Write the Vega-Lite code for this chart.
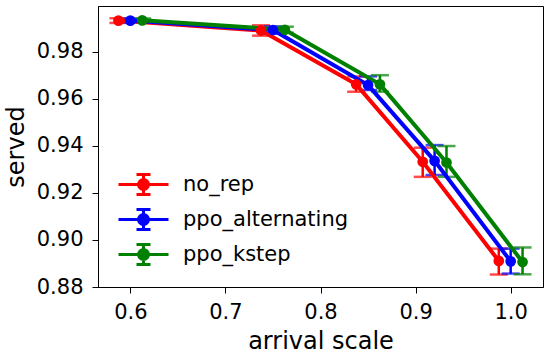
{
  "$schema": "https://vega.github.io/schema/vega-lite/v6.json",
  "width": 445,
  "height": 281,
  "autosize": {"type": "none"},
  "padding": {"left": 98, "top": 6, "right": 7, "bottom": 69},
  "background": "white",
  "config": {
    "font": "DejaVu Sans",
    "view": {"stroke": "black", "strokeWidth": 1},
    "axis": {
      "grid": false,
      "domainColor": "black",
      "tickColor": "black",
      "tickSize": 6,
      "labelFontSize": 21,
      "labelColor": "black",
      "labelFont": "DejaVu Sans",
      "titleFontSize": 24,
      "titleFontWeight": "normal",
      "titleColor": "black",
      "titleFont": "DejaVu Sans"
    }
  },
  "data": {
    "values": [
      {"series": "no_rep", "x": 0.5875, "y": 0.9932, "lo": 0.9922, "hi": 0.9942},
      {"series": "no_rep", "x": 0.7375, "y": 0.9890, "lo": 0.9868, "hi": 0.9912},
      {"series": "no_rep", "x": 0.8375, "y": 0.9661, "lo": 0.9630, "hi": 0.9694},
      {"series": "no_rep", "x": 0.9075, "y": 0.9332, "lo": 0.9268, "hi": 0.9392},
      {"series": "no_rep", "x": 0.9875, "y": 0.8911, "lo": 0.8853, "hi": 0.8963},
      {"series": "ppo_alternating", "x": 0.6, "y": 0.9932, "lo": 0.9924, "hi": 0.9940},
      {"series": "ppo_alternating", "x": 0.75, "y": 0.9892, "lo": 0.9877, "hi": 0.9907},
      {"series": "ppo_alternating", "x": 0.85, "y": 0.9658, "lo": 0.9637, "hi": 0.9695},
      {"series": "ppo_alternating", "x": 0.92, "y": 0.9336, "lo": 0.9276, "hi": 0.9403},
      {"series": "ppo_alternating", "x": 1.0, "y": 0.8909, "lo": 0.8857, "hi": 0.8963},
      {"series": "ppo_kstep", "x": 0.6125, "y": 0.9933, "lo": 0.9925, "hi": 0.9941},
      {"series": "ppo_kstep", "x": 0.7625, "y": 0.9893, "lo": 0.9880, "hi": 0.9906},
      {"series": "ppo_kstep", "x": 0.8625, "y": 0.9661, "lo": 0.9630, "hi": 0.9700},
      {"series": "ppo_kstep", "x": 0.9325, "y": 0.9329, "lo": 0.9268, "hi": 0.9399},
      {"series": "ppo_kstep", "x": 1.0125, "y": 0.8906, "lo": 0.8854, "hi": 0.8968}
    ]
  },
  "encoding": {
    "x": {
      "field": "x",
      "type": "quantitative",
      "title": "arrival scale",
      "scale": {"domain": [0.566, 1.034], "nice": false, "zero": false},
      "axis": {"values": [0.6, 0.7, 0.8, 0.9, 1.0], "format": ".1f", "labelPadding": 8, "titlePadding": 7, "labelFlush": false}
    },
    "color": {
      "field": "series",
      "type": "nominal",
      "scale": {"domain": ["no_rep", "ppo_alternating", "ppo_kstep"], "range": ["#ff0000", "#0000ff", "#008000"]}
    }
  },
  "layer": [
    {
      "mark": {"type": "rule", "strokeWidth": 2.5},
      "encoding": {
        "y": {
          "field": "lo",
          "type": "quantitative",
          "title": "served",
          "scale": {"domain": [0.88, 0.9994], "nice": false, "zero": false},
          "axis": {"values": [0.88, 0.9, 0.92, 0.94, 0.96, 0.98], "format": ".2f", "labelPadding": 9, "titlePadding": 8, "labelFlush": false}
        },
        "y2": {"field": "hi"}
      }
    },
    {
      "mark": {"type": "tick", "orient": "horizontal", "size": 18, "thickness": 2.5},
      "encoding": {"y": {"field": "lo", "type": "quantitative"}}
    },
    {
      "mark": {"type": "tick", "orient": "horizontal", "size": 18, "thickness": 2.5},
      "encoding": {"y": {"field": "hi", "type": "quantitative"}}
    },
    {
      "mark": {"type": "line", "strokeWidth": 4},
      "encoding": {"y": {"field": "y", "type": "quantitative"}}
    },
    {
      "mark": {"type": "point", "filled": true, "opacity": 1, "shape": "circle", "size": 115},
      "encoding": {
        "y": {"field": "y", "type": "quantitative"},
        "color": {
          "field": "series",
          "type": "nominal",
          "scale": {"domain": ["no_rep", "ppo_alternating", "ppo_kstep"], "range": ["#ff0000", "#0000ff", "#008000"]},
          "legend": {
            "title": null,
            "orient": "none",
            "legendX": 34,
            "legendY": 167,
            "padding": 0,
            "rowPadding": 2,
            "labelOffset": 28,
            "labelFontSize": 21,
            "labelFont": "DejaVu Sans",
            "labelColor": "black",
            "labelLimit": 400,
            "symbolSize": 400,
            "symbolStrokeWidth": 3,
            "symbolOpacity": 1,
            "symbolType": "M-2.5,0H2.5M0,-1V1M-0.7,-1H0.7M-0.7,1H0.7M0.5,0A0.5,0.5,0,1,1,-0.5,0A0.5,0.5,0,1,1,0.5,0Z",
            "encode": {
              "symbols": {
                "update": {
                  "fill": {"scale": "color", "field": "value"},
                  "stroke": {"scale": "color", "field": "value"},
                  "opacity": {"value": 1},
                  "fillOpacity": {"value": 1},
                  "strokeOpacity": {"value": 1}
                }
              }
            }
          }
        }
      }
    }
  ]
}
